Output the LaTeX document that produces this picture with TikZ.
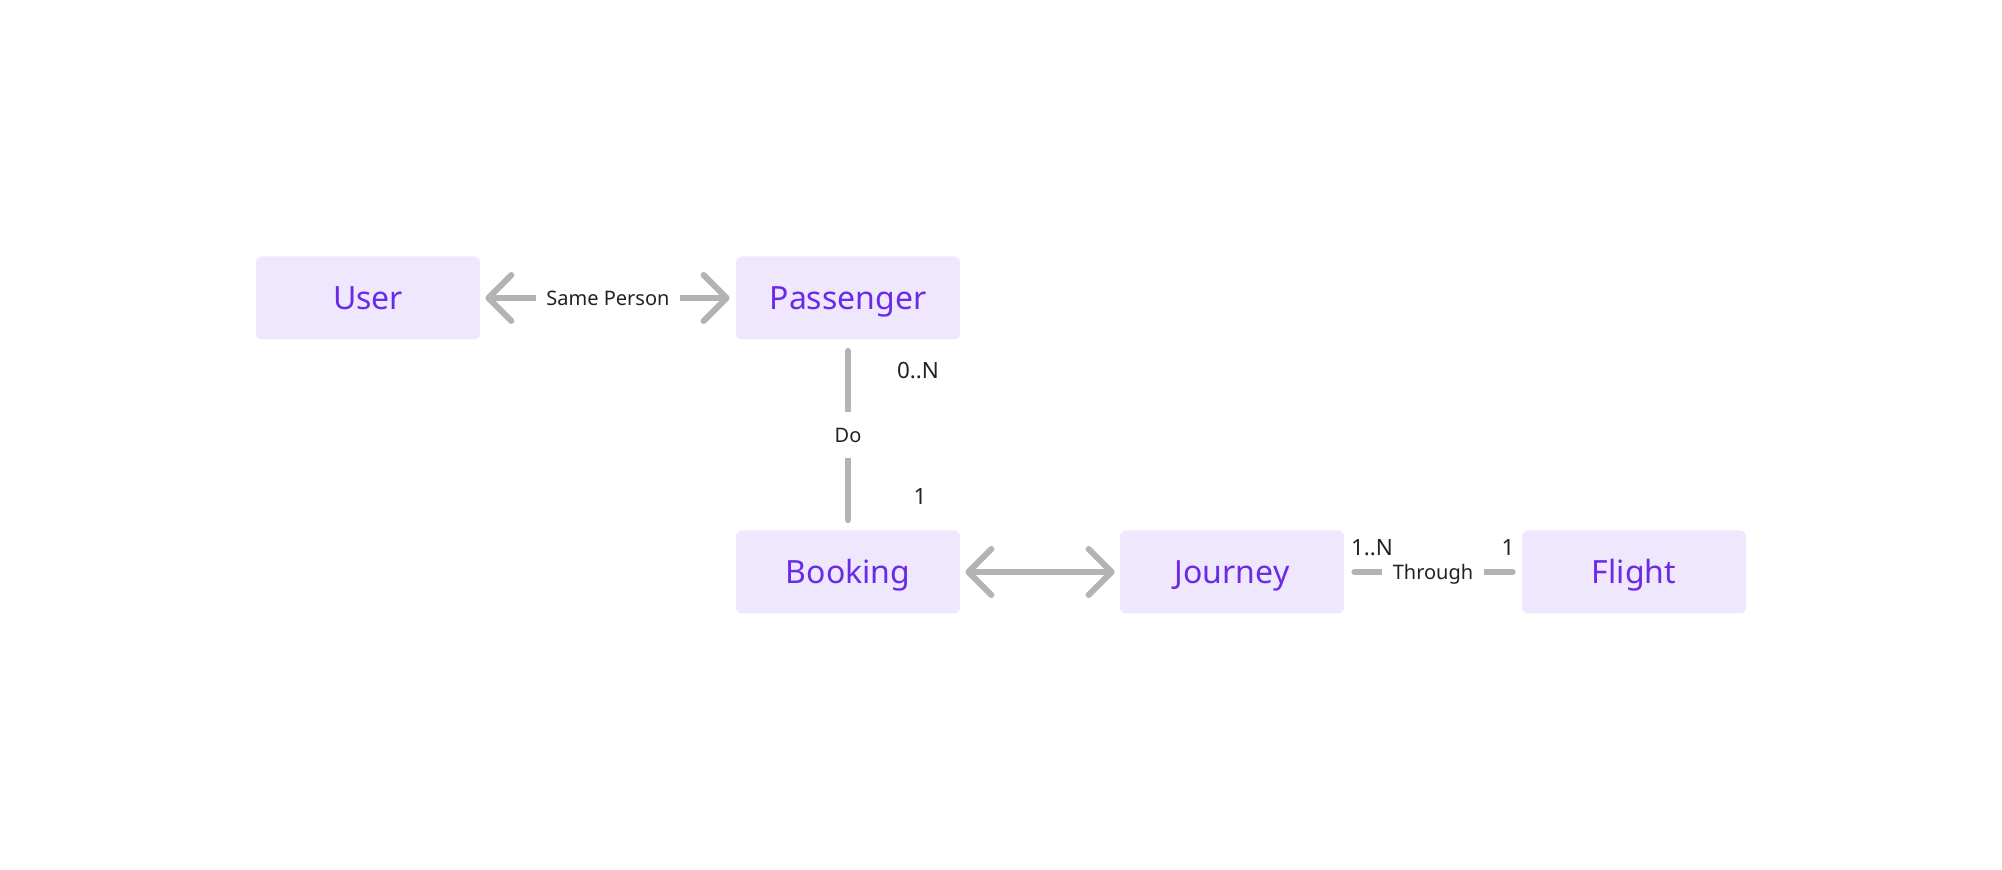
\documentclass[tikz,border=0pt]{standalone}
\usepackage{fontspec}
\setmainfont{Noto Sans}
\usetikzlibrary{arrows.meta}
\definecolor{boxfill}{HTML}{EFE7FE}
\definecolor{boxtext}{HTML}{6A2AE6}
\definecolor{linegray}{HTML}{B3B3B3}
\definecolor{labeltext}{HTML}{222222}
\tikzset{
  entity/.style={fill=boxfill, rounded corners=3pt, minimum width=112pt, minimum height=41.5pt,
    text=boxtext, font=\fontsize{16}{18}\selectfont, text height=11.4pt, text depth=0pt, inner sep=0pt},
  conn/.style={draw=linegray, line width=3pt, line cap=round},
  barb/.style={{Straight Barb[length=11.5pt,width=23pt,round]}-{Straight Barb[length=11.5pt,width=23pt,round]}},
  elabel/.style={fill=white, text=labeltext, font=\fontsize{10}{12}\selectfont, text height=7.14pt, text depth=0pt, inner xsep=5pt, inner ysep=1pt},
  vlabel/.style={fill=white, text=labeltext, font=\fontsize{10}{12}\selectfont, text height=7.14pt, text depth=0pt, inner xsep=2pt, minimum height=23pt},
  card/.style={text=labeltext, font=\fontsize{11.2}{13}\selectfont, text height=8pt, text depth=0pt, inner sep=0pt}
}
\begin{document}
\begin{tikzpicture}[x=0.5pt, y=-0.5pt]
\useasboundingbox (0,0) rectangle (2002,870);
\node[entity] (user) at (368,298) {User};
\node[entity] (pass) at (848,298) {Passenger};
\node[entity] (book) at (848,572) {Booking};
\node[entity] (jour) at (1232,572) {Journey};
\node[entity] (flig) at (1634,572) {Flight};

\draw[conn, barb, shorten <=2.5pt, shorten >=3pt] (user.east) -- node[elabel] (sp) {Same Person} (pass.west);
\draw[conn, shorten <=5.5pt, shorten >=5pt] (pass.south) -- node[vlabel] (do) {Do} (book.north);
\draw[conn, barb, shorten <=2.5pt, shorten >=2.5pt] (book.east) -- (jour.west);
\draw[conn, shorten <=5pt, shorten >=4.5pt] (jour.east) -- node[elabel, inner xsep=5.5pt] (th) {Through} (flig.west);

\node[card] (c1) at (918,371) {0..N};
\node[card] (c2) at (920,497) {1};
\node[card] (c3) at (1372,548) {1..N};
\node[card] (c4) at (1508,548) {1};
\end{tikzpicture}
\end{document}
